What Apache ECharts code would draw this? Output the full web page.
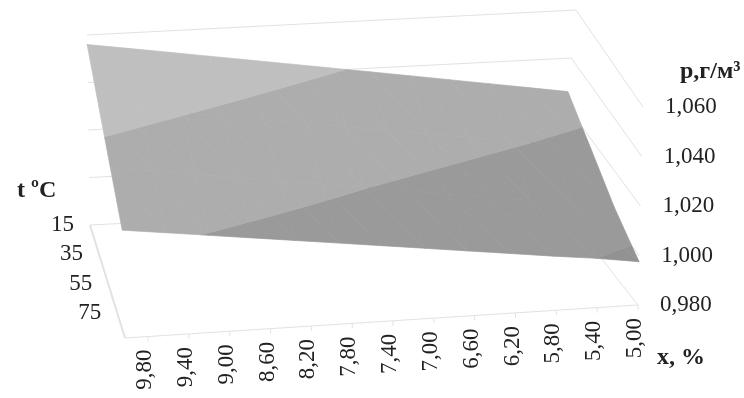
<!DOCTYPE html>
<html>
<head>
<meta charset="utf-8">
<style>
  html, body { margin: 0; padding: 0; background: #fff; }
  #main { width: 744px; height: 398px; filter: blur(0.7px); }
</style>
<script src="https://cdn.jsdelivr.net/npm/echarts@6/dist/echarts.min.js"></script>
</head>
<body>
<div id="main"></div>
<script>
// values
const xLabels = ['9,80','9,40','9,00','8,60','8,20','7,80','7,40','7,00','6,60','6,20','5,80','5,40','5,00'];
const tLabels = ['15','35','55','75'];
const rhoTicks = [0.98, 1.00, 1.02, 1.04, 1.06];

const rhoT15 = [1.056,1.0535,1.051,1.0485,1.046,1.0435,1.041,1.0385,1.036,1.0335,1.031,1.0285,1.026];
const rhoT35 = [1.0453,1.0429,1.0405,1.0381,1.0357,1.0333,1.0309,1.0285,1.0261,1.0237,1.0213,1.0189,1.0165];
const rhoT55 = [1.0347,1.0323,1.0299,1.0275,1.0251,1.0227,1.0203,1.0179,1.0155,1.0131,1.0107,1.0083,1.006];
const rhoT75 = [1.024,1.0218,1.0196,1.0174,1.0152,1.013,1.0108,1.0086,1.0064,1.0042,1.002,1.0,0.9975];
const rhoRows = [rhoT15, rhoT35, rhoT55, rhoT75];

// one grey per 0,02 band, lowest first
const bandColors = ['#929292','#9a9a9a','#adadad','#bfbfbf'];

// 3d box corners on the page: [back-left, back-right, front-left, front-right]
const floorBox = [[90,225],[557,202],[125,338],[638,305]];
const roofBox = [[87,35],[576,10],[120,142],[643,107]];

function mix(a, b, f){ return a + (b - a) * f; }

function project(u, v, k){
  const out = [0, 1].map(d => {
    const lo = mix(mix(floorBox[0][d], floorBox[1][d], u), mix(floorBox[2][d], floorBox[3][d], u), v);
    const hi = mix(mix(roofBox[0][d], roofBox[1][d], u), mix(roofBox[2][d], roofBox[3][d], u), v);
    return mix(lo, hi, k);
  });
  return out;
}
function rhoToK(rho){
  return (rho - rhoTicks[0]) / (rhoTicks[rhoTicks.length-1] - rhoTicks[0]);
}

// keep the part of a triangle between two densities
function clipBelow(poly, limit, sign){
  const res = [];
  poly.forEach((p, i) => {
    const q = poly[(i + 1) % poly.length];
    const pIn = sign * (p[2] - limit) >= 0;
    const qIn = sign * (q[2] - limit) >= 0;
    if(pIn){ res.push(p); }
    if(pIn !== qIn){
      const f = (limit - p[2]) / (q[2] - p[2]);
      res.push([mix(p[0], q[0], f), mix(p[1], q[1], f), limit]);
    }
  });
  return res;
}

const cells = [];
for(let j = 0; j < rhoRows.length - 1; j++){
  for(let i = 0; i < xLabels.length - 1; i++){
    cells.push([i, j]);
  }
}

function renderCell(params, api){
  const i = cells[params.dataIndex][0], j = cells[params.dataIndex][1];
  const nx = xLabels.length - 1, nt = rhoRows.length - 1;
  const pt = (a, b) => [a / nx, b / nt, rhoRows[b][a]];
  const tris = [
    [pt(i,j), pt(i+1,j), pt(i+1,j+1)],
    [pt(i,j), pt(i+1,j+1), pt(i,j+1)]
  ];
  const children = [];
  tris.forEach(tri => {
    bandColors.forEach((color, b) => {
      let poly = clipBelow(tri, rhoTicks[b], 1);
      if(poly.length) poly = clipBelow(poly, rhoTicks[b+1], -1);
      if(poly.length < 3) return;
      children.push({
        type: 'polygon',
        shape: { points: poly.map(p => api.coord(project(p[0], p[1], rhoToK(p[2])))) },
        style: { fill: color, stroke: color, lineWidth: 0.7 }
      });
    });
  });
  return { type: 'group', children: children };
}

// wall and floor lines
const wallLines = [];
rhoTicks.forEach(rho => {
  const k = rhoToK(rho);
  wallLines.push({ from: [0,0,k], to: [1,0,k], width: 1 });
  wallLines.push({ from: [1,0,k], to: [1,1,k], width: 1 });
});
wallLines.push({ from: [0,0,0], to: [0,1,0], width: 2 });
wallLines.push({ from: [0,1,0], to: [1,1,0], width: 1 });

function renderWall(params, api){
  const line = wallLines[params.dataIndex];
  const a = api.coord(project(line.from[0], line.from[1], line.from[2]));
  const b = api.coord(project(line.to[0], line.to[1], line.to[2]));
  return {
    type: 'line',
    shape: { x1: a[0], y1: a[1], x2: b[0], y2: b[1] },
    style: { stroke: '#e2e2e2', lineWidth: line.width }
  };
}

const labelFont = '23px "Liberation Serif"';

function renderXLabel(params, api){
  // category labels do not start at the corner of the floor, Excel shifts them
  const u = 0.045 + 0.955 * params.dataIndex / (xLabels.length - 1);
  const p = api.coord(project(u, 1, 0));
  return {
    type: 'group',
    children: [
      { type: 'line', shape: { x1: p[0], y1: p[1], x2: p[0], y2: p[1] + 5 }, style: { stroke: '#e2e2e2', lineWidth: 1 } },
      { type: 'text', x: p[0] - 3, y: p[1] + 13, rotation: Math.PI / 2,
        style: { text: xLabels[params.dataIndex], font: labelFont, fill: '#222', align: 'right', verticalAlign: 'middle' } }
    ]
  };
}
function renderTLabel(params, api){
  const p = api.coord(project(0, params.dataIndex * 0.26, 0));
  return {
    type: 'text', x: p[0] - 16, y: p[1],
    style: { text: tLabels[params.dataIndex], font: labelFont, fill: '#222', align: 'right', verticalAlign: 'middle' }
  };
}
function renderRhoLabel(params, api){
  const rho = rhoTicks[params.dataIndex];
  const p = api.coord(project(1, 1, rhoToK(rho)));
  return {
    type: 'text', x: p[0] + 22, y: p[1],
    style: { text: rho.toFixed(3).replace('.', ','), font: labelFont, fill: '#222', align: 'left', verticalAlign: 'middle' }
  };
}

const myChart = echarts.init(document.getElementById('main'), null, { renderer: 'canvas' });

function customSeries(items, fn, z){
  return { type: 'custom', data: items.map((e, i) => [i]), renderItem: fn, clip: false, silent: true, z: z, animation: false, encode: { x: -1, y: -1 } };
}

const titleFont = 'bold 24px "Liberation Serif"';

myChart.setOption({
  animation: false,
  backgroundColor: '#fff',
  grid: { left: 0, right: 0, top: 0, bottom: 0 },
  xAxis: { type: 'value', min: 0, max: 744, show: false },
  yAxis: { type: 'value', min: 0, max: 398, inverse: true, show: false },
  graphic: [
    { type: 'text', left: 680, top: 60, style: { text: 'р,г/м³', font: titleFont, fill: '#222' } },
    { type: 'text', left: 17, top: 179, style: { text: 't ºC', font: titleFont, fill: '#222' } },
    { type: 'text', left: 657, top: 346, style: { text: 'x, %', font: titleFont, fill: '#222' } }
  ],
  series: [
    customSeries(wallLines, renderWall, 1),
    customSeries(cells, renderCell, 2),
    customSeries(xLabels, renderXLabel, 3),
    customSeries(tLabels, renderTLabel, 3),
    customSeries(rhoTicks, renderRhoLabel, 3)
  ]
});
</script>
</body>
</html>
